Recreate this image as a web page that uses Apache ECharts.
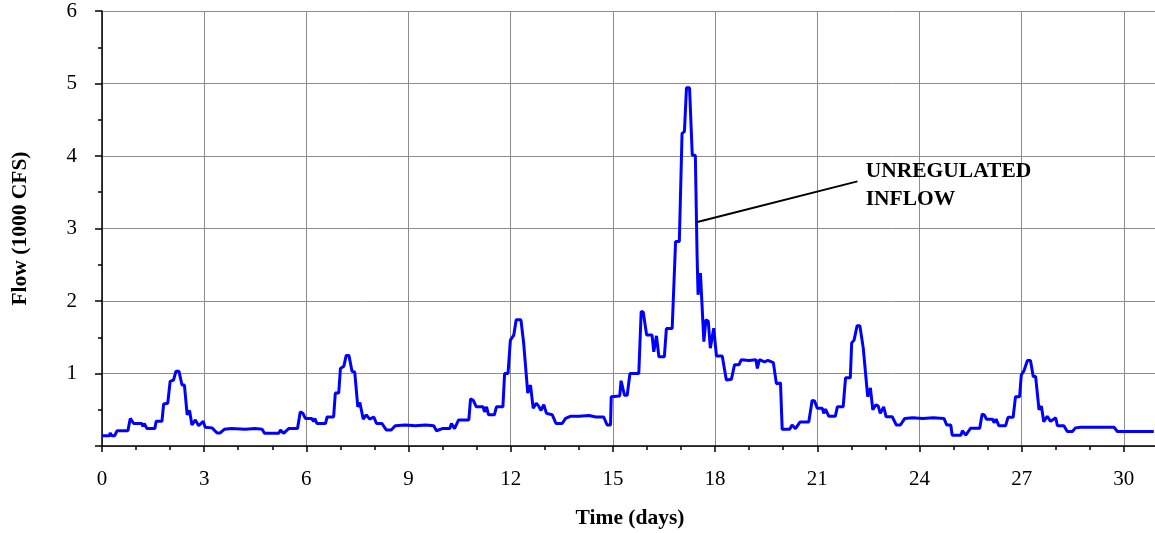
<!DOCTYPE html>
<html>
<head>
<meta charset="utf-8">
<script src="https://cdn.jsdelivr.net/npm/echarts@6/dist/echarts.min.js"></script>
<style>
  html, body { margin: 0; padding: 0; background: #fff; }
  #chart { width: 1155px; height: 533px; }
</style>
</head>
<body>
<div id="chart"></div>
<script>
// time in days
var days = [
  0.00, 0.22, 0.24, 0.29, 0.37, 0.44, 0.76, 0.83, 0.88, 0.93, 1.17, 1.20, 1.24, 1.32, 1.55, 1.59, 1.76, 1.81, 1.93,
  2.00, 2.10, 2.17, 2.26, 2.35, 2.42, 2.50, 2.57, 2.64, 2.74, 2.84, 2.97, 3.03, 3.23, 3.38, 3.47, 3.59, 3.80, 4.20,
  4.50, 4.70, 4.77, 5.19, 5.24, 5.33, 5.48, 5.74, 5.82, 5.90, 5.97, 6.15, 6.21, 6.25, 6.31, 6.56, 6.61, 6.80, 6.85,
  6.95, 7.00, 7.10, 7.17, 7.25, 7.34, 7.42, 7.51, 7.57, 7.67, 7.76, 7.86, 7.98, 8.06, 8.22, 8.35, 8.49, 8.61, 8.90,
  9.20, 9.50, 9.74, 9.82, 9.99, 10.21, 10.26, 10.35, 10.47, 10.77, 10.82, 10.90, 10.99, 11.19, 11.23, 11.29, 11.35,
  11.52, 11.58, 11.77, 11.82, 11.92, 11.99, 12.09, 12.16, 12.30, 12.38, 12.43, 12.50, 12.58, 12.66, 12.75, 12.82,
  12.89, 12.97, 13.05, 13.22, 13.33, 13.51, 13.61, 13.75, 14.00, 14.30, 14.50, 14.73, 14.83, 14.93, 14.95, 15.20,
  15.24, 15.34, 15.42, 15.50, 15.76, 15.83, 15.89, 15.99, 16.15, 16.20, 16.28, 16.35, 16.51, 16.57, 16.74, 16.84,
  16.95, 17.03, 17.10, 17.16, 17.25, 17.33, 17.42, 17.47, 17.50, 17.57, 17.67, 17.73, 17.80, 17.86, 17.96, 18.04,
  18.21, 18.33, 18.48, 18.57, 18.70, 18.77, 19.00, 19.20, 19.24, 19.30, 19.45, 19.55, 19.71, 19.80, 19.92, 19.97,
  20.19, 20.26, 20.36, 20.49, 20.75, 20.85, 20.92, 21.00, 21.15, 21.19, 21.24, 21.34, 21.53, 21.59, 21.76, 21.83,
  21.97, 22.01, 22.08, 22.17, 22.25, 22.35, 22.40, 22.48, 22.56, 22.63, 22.72, 22.79, 22.85, 22.95, 23.02, 23.20,
  23.32, 23.44, 23.57, 23.80, 24.10, 24.40, 24.72, 24.80, 24.92, 24.96, 25.22, 25.26, 25.36, 25.50, 25.77, 25.84,
  25.90, 25.97, 26.15, 26.19, 26.25, 26.33, 26.53, 26.60, 26.75, 26.82, 26.94, 26.99, 27.07, 27.17, 27.26, 27.34,
  27.41, 27.51, 27.58, 27.65, 27.75, 27.85, 28.00, 28.05, 28.24, 28.34, 28.49, 28.58, 28.73, 29.00, 29.30, 29.71,
  29.81, 30.88
];
// flow in 1000 cfs
var flow = [
  0.14, 0.14, 0.18, 0.14, 0.14, 0.21, 0.21, 0.38, 0.37, 0.31, 0.31, 0.27, 0.31, 0.24, 0.24, 0.34, 0.34, 0.58, 0.59,
  0.89, 0.91, 1.03, 1.03, 0.84, 0.84, 0.43, 0.49, 0.29, 0.36, 0.28, 0.34, 0.26, 0.25, 0.18, 0.18, 0.23, 0.24, 0.23,
  0.24, 0.23, 0.175, 0.175, 0.22, 0.175, 0.24, 0.24, 0.47, 0.45, 0.38, 0.38, 0.34, 0.38, 0.31, 0.31, 0.40, 0.40, 0.73,
  0.73, 1.07, 1.10, 1.25, 1.25, 1.03, 1.02, 0.54, 0.60, 0.37, 0.43, 0.37, 0.40, 0.31, 0.31, 0.22, 0.22, 0.28, 0.29,
  0.28, 0.29, 0.28, 0.21, 0.24, 0.24, 0.31, 0.24, 0.36, 0.36, 0.65, 0.63, 0.54, 0.54, 0.47, 0.54, 0.43,
  0.43, 0.54, 0.54, 1.00, 1.00, 1.46, 1.53, 1.74, 1.74, 1.42, 1.42, 0.73, 0.84, 0.52, 0.59, 0.55,
  0.49, 0.57, 0.45, 0.43, 0.31, 0.31, 0.38, 0.41, 0.41, 0.42, 0.40, 0.40, 0.29, 0.29, 0.68, 0.69,
  0.90, 0.70, 0.70, 1.00, 1.00, 1.855, 1.85, 1.53, 1.53, 1.30, 1.52, 1.23, 1.23, 1.62, 1.62, 2.82,
  2.82, 4.31, 4.34, 4.94, 4.94, 4.01, 4.01, 2.66, 2.085, 2.385, 1.44, 1.74, 1.72, 1.35, 1.625, 1.24,
  1.24, 0.91, 0.92, 1.12, 1.12, 1.19, 1.18, 1.19, 1.07, 1.19, 1.16, 1.18, 1.15, 0.86, 0.87, 0.23,
  0.23, 0.29, 0.24, 0.33, 0.33, 0.63, 0.62, 0.52, 0.52, 0.45, 0.51, 0.41, 0.41, 0.54, 0.54, 0.94,
  0.94, 1.42, 1.46, 1.66, 1.66, 1.35, 1.35, 0.68, 0.80, 0.50, 0.57, 0.55, 0.45, 0.54, 0.405, 0.405,
  0.29, 0.29, 0.38, 0.39, 0.38, 0.39, 0.38, 0.29, 0.29, 0.15, 0.15, 0.21, 0.15, 0.245, 0.245, 0.44,
  0.43, 0.37, 0.37, 0.32, 0.37, 0.28, 0.28, 0.395, 0.395, 0.68, 0.68, 0.98, 1.04, 1.18, 1.18, 0.96,
  0.96, 0.50, 0.55, 0.335, 0.41, 0.34, 0.39, 0.28, 0.28, 0.20, 0.20, 0.25, 0.26, 0.26, 0.26, 0.26,
  0.20, 0.20
];

var leaderFrom = [17.48, 3.09];
var leaderTo = [22.18, 3.65];
var labelAt = [22.42, 3.60];
var labelText = 'UNREGULATED\nINFLOW';

var serif = "'Liberation Serif', 'Times New Roman', serif";

var chart = echarts.init(document.getElementById('chart'));

var seriesData = days.map(function (d, i) {
  return [d, flow[i]];
});

var option = {
  backgroundColor: '#ffffff',
  animation: false,
  grid: {
    left: 102,
    top: 11,
    bottom: 87,
    right: -71,
    containLabel: false,
    outerBoundsMode: 'none'
  },
  graphic: [{
    type: 'text',
    x: 630,
    y: 518,
    style: {
      text: 'Time (days)',
      font: 'bold 21.5px ' + serif,
      fill: '#000',
      align: 'center',
      verticalAlign: 'middle'
    }
  }],
  xAxis: {
    type: 'value',
    min: 0,
    max: 33,
    interval: 3,
    axisLine: { show: true, onZero: false, lineStyle: { color: '#000', width: 1.5 } },
    axisTick: { show: true, length: 6, lineStyle: { color: '#000', width: 1.5 } },
    minorTick: { show: true, splitNumber: 3, length: 4, lineStyle: { color: '#000', width: 1.5 } },
    splitLine: { show: true, lineStyle: { color: '#8c8c8c', width: 1 } },
    axisLabel: { color: '#000', fontSize: 21, fontFamily: serif, margin: 23 }
  },
  yAxis: {
    type: 'value',
    min: 0,
    max: 6,
    interval: 1,
    name: 'Flow (1000 CFS)',
    nameLocation: 'middle',
    nameGap: 71,
    nameTextStyle: { color: '#000', fontSize: 21.5, fontWeight: 'bold', fontFamily: serif },
    axisLine: { show: true, lineStyle: { color: '#000', width: 1.5 } },
    axisTick: { show: true, length: 7, lineStyle: { color: '#000', width: 1.5 } },
    minorTick: { show: true, splitNumber: 2, length: 4, lineStyle: { color: '#000', width: 1.5 } },
    splitLine: { show: true, lineStyle: { color: '#8c8c8c', width: 1 } },
    axisLabel: {
      color: '#000', fontSize: 21, fontFamily: serif, margin: 25,
      formatter: function (v) { return v === 0 ? '' : v; }
    }
  },
  series: [{
    name: 'Unregulated inflow',
    type: 'line',
    data: seriesData,
    showSymbol: false,
    symbol: 'none',
    lineStyle: { color: '#0000ff', width: 3 },
    itemStyle: { color: '#0000ff' },
    markLine: {
      silent: true,
      symbol: ['none', 'none'],
      label: { show: false },
      lineStyle: { color: '#000', width: 2, type: 'solid' },
      data: [[{ coord: leaderFrom }, { coord: leaderTo }]]
    },
    markPoint: {
      silent: true,
      symbol: 'circle',
      symbolSize: 0,
      data: [{
        coord: labelAt,
        label: {
          show: true,
          position: 'right',
          distance: 0,
          formatter: labelText,
          color: '#000',
          fontSize: 21.5,
          fontWeight: 'bold',
          fontFamily: serif,
          lineHeight: 28,
          align: 'left'
        }
      }]
    }
  }]
};

chart.setOption(option);
</script>
</body>
</html>
